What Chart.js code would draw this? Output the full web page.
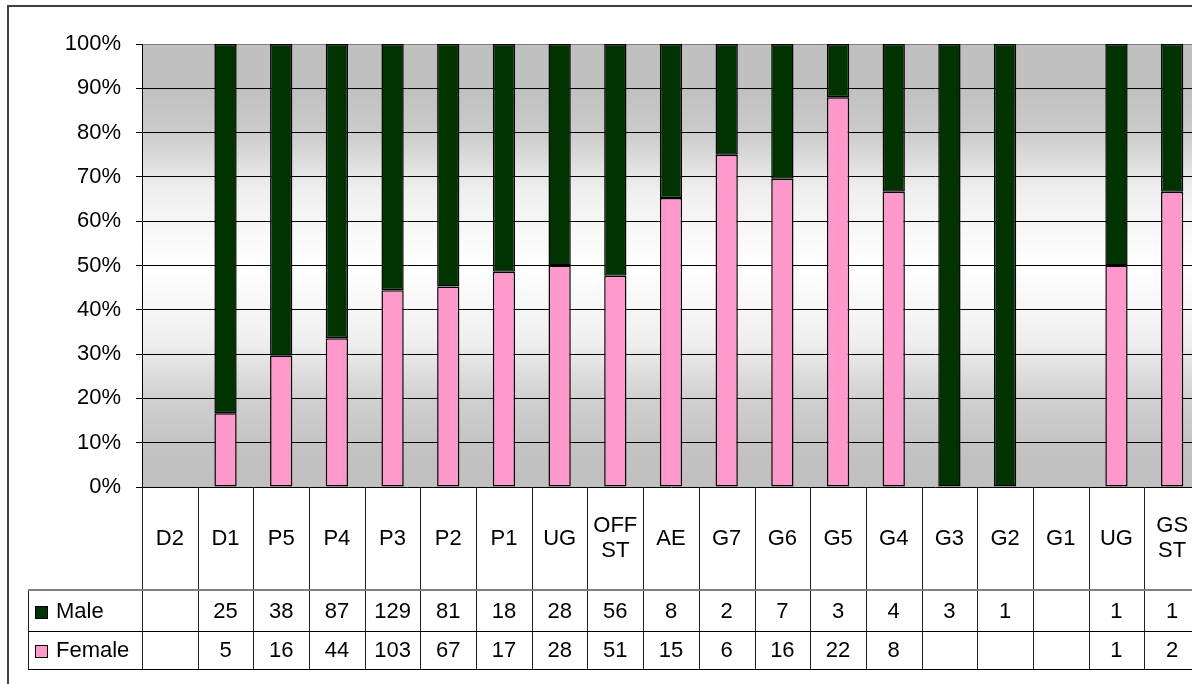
<!DOCTYPE html>
<html>
<head>
<meta charset="utf-8">
<script src="https://cdn.jsdelivr.net/npm/chart.js@4"></script>
<style>
  html, body { margin: 0; padding: 0; background: #fff; overflow: hidden; }
  #wrap { position: absolute; left: 0; top: 0; width: 1230px; height: 684px; }
</style>
</head>
<body>
<div id="wrap"><canvas id="chart" width="1230" height="684"></canvas></div>
<script>
const categories   = ['D2', 'D1', 'P5', 'P4', 'P3', 'P2', 'P1', 'UG', 'OFF ST', 'AE', 'G7', 'G6', 'G5', 'G4', 'G3', 'G2', 'G1', 'UG', 'GS ST'];
const maleCounts   = [null, 25, 38, 87, 129, 81, 18, 28, 56, 8, 2, 7, 3, 4, 3, 1, null, 1, 1];
const femaleCounts = [null, 5, 16, 44, 103, 67, 17, 28, 51, 15, 6, 16, 22, 8, null, null, null, 1, 2];
const yTicks       = [0, 10, 20, 30, 40, 50, 60, 70, 80, 90, 100];

const MALE_COLOR   = '#003300';
const FEMALE_COLOR = '#ff99cc';
const FONT = '"Liberation Sans", Arial, sans-serif';

// share of each sex per category, in percent
function pct(counts, i) {
  const t = (maleCounts[i] || 0) + (femaleCounts[i] || 0);
  if (!t || !counts[i]) return null;
  return counts[i] / t * 100;
}
const femalePct = categories.map((_, i) => pct(femaleCounts, i));
const malePct   = categories.map((_, i) => pct(maleCounts, i));

// gray-white-gray plot background
const plotBackground = {
  id: 'plotBackground',
  beforeDraw(chart) {
    const { ctx, chartArea: a } = chart;
    const g = ctx.createLinearGradient(0, a.top, 0, a.bottom);
    g.addColorStop(0, '#c0c0c0');
    g.addColorStop(0.1, '#c0c0c0');
    g.addColorStop(0.2, '#cbcbcb');
    g.addColorStop(0.33, '#efefef');
    g.addColorStop(0.5, '#ffffff');
    g.addColorStop(0.67, '#efefef');
    g.addColorStop(0.8, '#d0d0d0');
    g.addColorStop(0.92, '#c2c2c2');
    g.addColorStop(1, '#c0c0c0');
    ctx.save();
    ctx.fillStyle = g;
    ctx.fillRect(a.left, a.top, a.right - a.left, a.bottom - a.top);
    ctx.restore();
  }
};

// data table under the plot + outer frame
const dataTable = {
  id: 'dataTable',
  afterDraw(chart) {
    const { ctx, chartArea: a, scales: { x } } = chart;
    const n = categories.length;
    const w = (a.right - a.left) / n;
    const catBottom = 590, maleBottom = 631, femaleBottom = 669, legLeft = 28;
    ctx.save();

    // vertical lines at category boundaries
    ctx.lineWidth = 1;
    ctx.strokeStyle = '#202020';
    for (let i = 0; i <= n; i++) {
      const px = Math.round(a.left + i * w) + 0.5;
      ctx.beginPath();
      ctx.moveTo(px, a.bottom);
      ctx.lineTo(px, femaleBottom);
      ctx.stroke();
    }
    // legend column left edge
    ctx.beginPath();
    ctx.moveTo(legLeft + 0.5, catBottom);
    ctx.lineTo(legLeft + 0.5, femaleBottom);
    ctx.stroke();

    // horizontal rules
    ctx.strokeStyle = '#808080';
    ctx.lineWidth = 2;
    ctx.beginPath();
    ctx.moveTo(legLeft, catBottom);
    ctx.lineTo(a.right, catBottom);
    ctx.stroke();
    ctx.strokeStyle = '#000';
    ctx.lineWidth = 1;
    [maleBottom, femaleBottom].forEach(yy => {
      ctx.beginPath();
      ctx.moveTo(legLeft, yy + 0.5);
      ctx.lineTo(a.right, yy + 0.5);
      ctx.stroke();
    });

    // text
    ctx.fillStyle = '#000';
    ctx.font = '22px ' + FONT;
    ctx.textAlign = 'center';
    ctx.textBaseline = 'middle';
    categories.forEach((c, i) => {
      const cx = x.getPixelForValue(i);
      const lines = c.split(' ');
      const mid = (a.bottom + catBottom) / 2;
      lines.forEach((ln, k) => {
        ctx.fillText(ln, cx, mid + (k - (lines.length - 1) / 2) * 25);
      });
      if (maleCounts[i] != null) ctx.fillText(String(maleCounts[i]), cx, (catBottom + maleBottom) / 2 + 1);
      if (femaleCounts[i] != null) ctx.fillText(String(femaleCounts[i]), cx, (maleBottom + femaleBottom) / 2 + 1);
    });

    // legend keys
    const rows = [
      { label: 'Male', color: MALE_COLOR, y: (catBottom + maleBottom) / 2 + 1 },
      { label: 'Female', color: FEMALE_COLOR, y: (maleBottom + femaleBottom) / 2 + 1 }
    ];
    rows.forEach(r => {
      ctx.fillStyle = r.color;
      ctx.fillRect(35.5, Math.round(r.y) - 5.5, 12, 12);
      ctx.strokeStyle = '#000';
      ctx.strokeRect(35.5, Math.round(r.y) - 5.5, 12, 12);
      ctx.fillStyle = '#000';
      ctx.textAlign = 'left';
      ctx.fillText(r.label, 56, r.y);
    });

    // outer chart frame
    ctx.strokeStyle = '#404040';
    ctx.lineWidth = 2;
    ctx.strokeRect(8, 6, 1400, 900);
    ctx.restore();
  }
};

new Chart(document.getElementById('chart'), {
  type: 'bar',
  data: {
    labels: categories,
    datasets: [
      { label: 'Female', data: femalePct, backgroundColor: FEMALE_COLOR, borderColor: '#000', borderWidth: 1.5, borderSkipped: false },
      { label: 'Male',   data: malePct,   backgroundColor: MALE_COLOR,   borderColor: '#000', borderWidth: 1.5, borderSkipped: false }
    ]
  },
  options: {
    responsive: false,
    animation: false,
    layout: { padding: { left: 0, top: 44, right: 30, bottom: 197 } },
    datasets: { bar: { categoryPercentage: 1, barPercentage: 0.4 } },
    plugins: { legend: { display: false }, tooltip: { enabled: false } },
    scales: {
      x: { stacked: true, display: false, grid: { display: false } },
      y: {
        stacked: true,
        min: 0,
        max: 100,
        afterFit: s => { s.width = 142; },
        afterBuildTicks: s => { s.ticks = yTicks.map(v => ({ value: v })); },
        ticks: {
          padding: 15,
          color: '#000',
          font: { family: FONT, size: 22 },
          callback: v => v + '%'
        },
        grid: {
          color: c => (c.tick && c.tick.value === 100 ? '#808080' : '#000'),
          lineWidth: 1,
          tickLength: 6,
          tickColor: '#000'
        },
        border: { display: true, color: '#000', width: 1 }
      }
    }
  },
  plugins: [plotBackground, dataTable]
});
</script>
</body>
</html>
